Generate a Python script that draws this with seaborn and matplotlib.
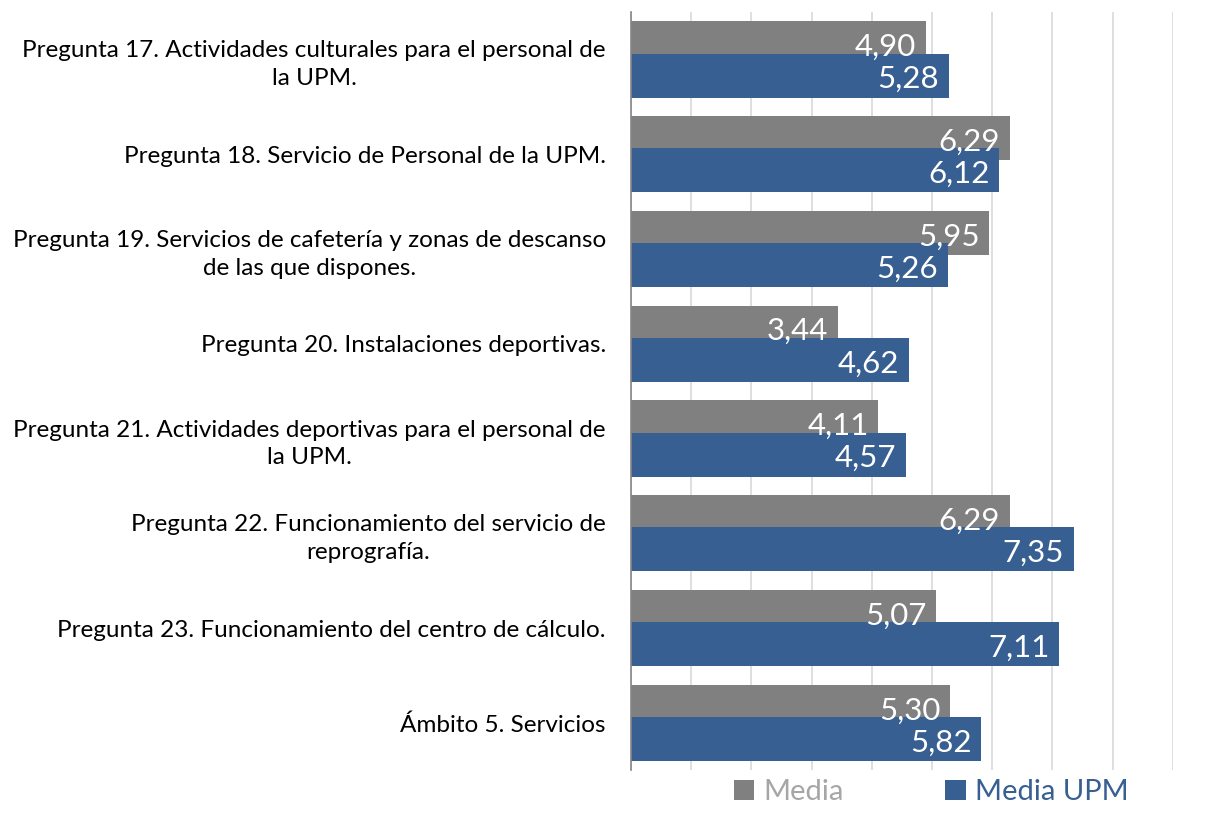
import numpy as np
import pandas as pd
import seaborn as sns
import matplotlib.pyplot as plt
from matplotlib.patches import Patch
from matplotlib.ticker import FixedLocator

preguntas = [
    'Pregunta 17. Actividades culturales para el personal de\nla UPM.',
    'Pregunta 18. Servicio de Personal de la UPM.',
    'Pregunta 19. Servicios de cafetería y zonas de descanso\nde las que dispones.',
    'Pregunta 20. Instalaciones deportivas.',
    'Pregunta 21. Actividades deportivas para el personal de\nla UPM.',
    'Pregunta 22. Funcionamiento del servicio de\nreprografía.',
    'Pregunta 23. Funcionamiento del centro de cálculo.',
    'Ámbito 5. Servicios',
]
media = [4.90, 6.29, 5.95, 3.44, 4.11, 6.29, 5.07, 5.30]
media_upm = [5.28, 6.12, 5.26, 4.62, 4.57, 7.35, 7.11, 5.82]
series = ['Media', 'Media UPM']
colores = ['#808080', '#375F92']
colores_leyenda = ['#A6A6A6', '#375F92']

sns.set_style('white')
plt.rcParams['font.family'] = ['Lato', 'DejaVu Sans']

pos = np.arange(len(preguntas))
desfase = 0.17
df = pd.DataFrame({
    'pos': np.concatenate([pos - desfase, pos + desfase]),
    'valor': media + media_upm,
    'serie': [series[0]] * len(media) + [series[1]] * len(media_upm),
})

fig = plt.figure(figsize=(12.25, 8.23), dpi=100)
ax = fig.add_axes([0.515, 0.064, 0.4425, 0.9214])

for serie, color in zip(series, colores):
    sub = df[df['serie'] == serie]
    sns.barplot(data=sub, x='valor', y='pos', orient='h', native_scale=True,
                width=0.464, color=color, saturation=1, errorbar=None,
                linewidth=0, ax=ax)

# etiquetas de valor (coma decimal), dentro del extremo de la barra
for cont, vals in zip(ax.containers, [media, media_upm]):
    txts = ax.bar_label(cont, labels=[('%.2f' % v).replace('.', ',') for v in vals],
                        padding=-7, color='white', fontsize=22.5)
    for t in txts:
        t.set_ha('right')
        t.xyann = (t.xyann[0], -2.5)

ax.set_xlim(0, 9)
ax.set_ylim(7.5, -0.5)
ax.set_xticks(np.arange(0, 10))
ax.set_xticklabels([])
ax.tick_params(axis='x', length=0)
ax.grid(axis='x', color='#D9D9D9', linewidth=1.2)
ax.grid(axis='y', visible=False)
ax.set_axisbelow(True)

ax.set_yticks(pos)
ax.set_yticklabels(preguntas, fontsize=17.5, color='black')
for lbl in ax.get_yticklabels():
    lbl.set_multialignment('center')
    lbl.set_linespacing(1.4)
ax.tick_params(axis='y', which='major', length=0, pad=18)
ax.yaxis.set_minor_locator(FixedLocator(np.arange(-0.5, len(preguntas), 1)))
ax.tick_params(axis='y', which='minor', length=6, width=1.2, color='#868686', direction='out')
ax.set_xlabel('')
ax.set_ylabel('')

for s in ['top', 'right', 'bottom']:
    ax.spines[s].set_visible(False)
ax.spines['left'].set_color('#868686')
ax.spines['left'].set_linewidth(1.2)

handles = [Patch(facecolor=c, edgecolor='none') for c in colores]
leg = fig.legend(handles, series, loc='lower center', bbox_to_anchor=(0.76, -0.01),
                 ncol=2, frameon=False, fontsize=21, handlelength=0.7, handleheight=0.7,
                 handletextpad=0.3, columnspacing=3.5)
for t, c in zip(leg.get_texts(), colores_leyenda):
    t.set_color(c)

fig.savefig('out.png', dpi=100)
